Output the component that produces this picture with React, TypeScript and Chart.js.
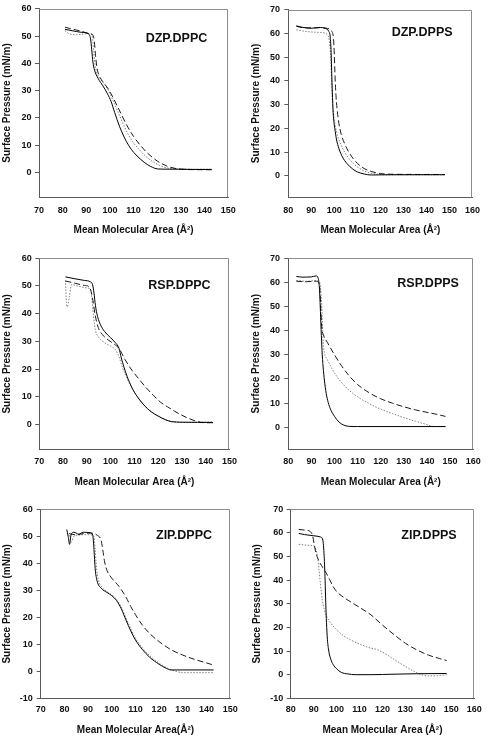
import React, { useEffect, useRef } from "react";
import { Chart, registerables } from "chart.js";

Chart.register(...registerables);

type Pt = [number, number];

// ---------- DATA ----------
const dzpDppcSolid: Pt[] = [[81,52.5],[84,52],[88,51.4],[91,50.8],[91.8,49],[92.3,45],[92.8,40.5],[93.5,37.5],[95,34.5],[97,31.8],[99,28.8],[100.5,26],[102,22],[104,17],[106,13],[108,9.8],[110,7.4],[113,4.8],[116,2.8],[118,1.9],[120,1.3],[125,1.2],[130,1.2],[135,1.1],[143,1.1]];
const dzpDppcDashed: Pt[] = [[81,53.3],[84,52.6],[88,51.8],[91,51],[92.8,50.4],[93.4,48],[93.9,43],[94.5,38.5],[95.5,35.5],[97,33.3],[99,31],[101,28],[103,24.5],[105,21],[107,17.5],[110,13.2],[113,9.8],[116,7],[120,4.2],[124,2.4],[128,1.4],[132,1.1],[143,1.0]];
const dzpDppcDotted: Pt[] = [[81,52],[83,50.8],[86,50.5],[89,50.8],[91.5,51],[92.6,49.5],[93.1,45],[93.6,40],[94.5,36.5],[96,34.2],[98,32],[100,29],[102,25],[104,21],[106,17],[108,13.5],[110,10.8],[113,7.8],[116,5.3],[120,3],[124,1.7],[128,1.3],[135,1.2],[143,1.2]];

const dzpDppsSolid: Pt[] = [[83.5,63.2],[86,62.6],[90,62.2],[94,62.5],[96,62.1],[97.5,61],[98.2,58.5],[98.6,52],[98.9,42],[99.2,33],[99.6,25],[100.2,20],[100.9,15.5],[102,11.5],[103.5,8],[105.5,5.2],[108,2.9],[110,1.7],[113,0.8],[116,0.4],[125,0.5],[148,0.5]];
const dzpDppsDashed: Pt[] = [[83.5,63],[86,62.5],[90,62.3],[94,62.5],[97,62.1],[98.8,61],[99.6,58],[100,51],[100.3,42],[100.7,34],[101.2,28],[102,22],[103,17.5],[104.5,13.5],[106,10.5],[108,7.5],[110,5.3],[113,3.1],[116,1.9],[120,1.0],[125,0.7],[148,0.6]];
const dzpDppsDotted: Pt[] = [[83.5,61.5],[88,60.8],[92,60.5],[95,60.3],[96.8,59.6],[97.8,57],[98.4,50],[98.8,40],[99.2,31],[99.9,24],[101,18.5],[102.5,14],[104.5,10],[107,6.5],[110,3.8],[114,1.7],[118,0.8],[125,0.5],[148,0.5]];

const rspDppcSolid: Pt[] = [[81,53.3],[85,52.6],[89,52],[91.5,51.5],[92.4,50.5],[93,47.5],[93.6,43],[94.5,39],[96,35.5],[98,33],[100,31.3],[102,29.5],[103.5,27.5],[104.5,24],[105.5,21],[107,17.2],[109,13.2],[111,10.3],[114,7],[117,4.6],[120,3],[123,1.7],[125.5,1],[130,0.8],[143,0.7]];
const rspDppcDashed: Pt[] = [[81,51.8],[85,51],[89,50.2],[91,49.7],[91.8,48],[92.5,45],[93.5,39.5],[94.8,35],[96.5,32.5],[99,30.5],[101.5,29],[103.5,27.5],[106,23.5],[109,19.5],[112,16.3],[115,13.2],[118,10.5],[121,8],[124,6.3],[127,4.7],[130,3.3],[133,2.1],[137,0.9],[140,0.6],[143,0.6]];
const rspDppcDotted: Pt[] = [[81,52],[81.4,44],[81.8,42.5],[82.6,46],[83.6,50.5],[86,50],[90,49.3],[91.5,48.8],[92.2,45],[92.8,39],[93.6,34],[95,31.5],[97.5,29.5],[100,28.3],[102,27],[103.5,24.5],[105,20.5],[107,16.5],[109,13],[111,10.3],[114,7],[117,4.6],[120,3],[123,1.8],[126,1],[130,0.7],[136,0.8],[143,0.9]];

const rspDppsSolid: Pt[] = [[83.5,62.5],[86,62.2],[90,62.3],[92,62.7],[93,61.5],[93.5,57],[93.9,48],[94.3,38],[94.7,30],[95.2,23.5],[95.8,18],[96.6,13],[97.5,9.5],[98.5,7],[100,4.5],[102,2.1],[104,0.9],[106,0.4],[110,0.3],[148,0.3]];
const rspDppsDashed: Pt[] = [[83.5,60.5],[88,60.3],[92,60.5],[93.3,59.5],[93.8,55],[94.2,46],[94.6,40.5],[95.2,38.3],[97,35],[100,30],[103,25.5],[106,21.7],[110,17.7],[115,14.3],[120,11.8],[125,10],[130,8.5],[135,7.2],[140,6.2],[145,5.2],[148,4.5]];
const rspDppsDotted: Pt[] = [[83.5,60.8],[88,60.5],[92,60.8],[93.6,60],[94.2,55],[94.7,45],[95.1,35],[95.6,31],[97,27.8],[100,22.5],[103,18.6],[106,15.6],[110,12.6],[115,9.8],[120,7.5],[125,5.7],[130,4],[135,2.5],[140,1.1],[143,0.3],[148,0.3]];

const zipDppcSolid: Pt[] = [[81,52.5],[81.6,50],[82.2,47],[82.8,50.5],[84,51.5],[86,50.8],[88,51.5],[91,51.3],[92,50.3],[92.5,45],[93,38],[93.8,33.5],[95.5,30.8],[98,29.2],[100,28],[102,26.2],[104,23.2],[106,19],[108,15],[110,11.6],[113,8],[116,5.2],[120,2.6],[123,1.1],[125,0.5],[130,0.5],[143,0.5]];
const zipDppcDashed: Pt[] = [[82,51],[85,50.5],[88,51],[91,51.2],[94,50.3],[95.5,48.5],[96.2,45],[97,40.5],[98,37.3],[100,34.5],[103,31.5],[106,27.5],[108,24],[110,21],[113,17],[116,14],[120,11],[125,8],[130,6],[135,4.4],[140,3.1],[143,2.3]];
const zipDppcDotted: Pt[] = [[81,51],[82,50.5],[83,48],[84,50],[86,50.5],[90,50.6],[92.5,50],[93,45],[93.5,39],[94.3,34],[96,31],[98,29.5],[100,28.3],[102,26.7],[104,23.8],[106,19.8],[108,15.8],[110,12.3],[113,8.6],[116,5.8],[120,3],[124,1],[127,0],[130,-0.5],[143,-0.5]];

const zipDppsSolid: Pt[] = [[83.5,59.8],[86,59.3],[90,58.8],[93,58.3],[94,57],[94.6,50],[95,40],[95.3,30],[95.6,22],[96,15],[96.6,10],[97.5,6.5],[98.5,4.3],[100,2.5],[102,1],[105,0.3],[108,0],[115,0],[125,0.2],[135,0.4],[148,0.5]];
const zipDppsDashed: Pt[] = [[83.5,61.5],[86,61.2],[88.5,60.6],[89.5,59],[90.2,55.5],[91,51.5],[92.5,47.8],[94,45.3],[95.5,43],[97,40.2],[98.5,37.3],[100,35.2],[102,33.5],[105,31.5],[110,28.5],[115,25.3],[120,21],[125,17],[130,13.3],[135,10.5],[140,8.3],[145,6.8],[148,6]];
const zipDppsDotted: Pt[] = [[83.5,55.2],[87,54.8],[90,54.5],[91,53],[91.7,50],[92.3,45],[93,38],[93.7,32],[94.5,28],[95.5,25],[97,22.5],[100,19],[103,16.5],[106,14.8],[110,13],[114,11.5],[118,10.5],[121,9],[125,6.5],[130,3.5],[134,1.3],[137,0],[140,-0.5],[144,-0.4],[148,0]];

const xTicksDppc = [70, 80, 90, 100, 110, 120, 130, 140, 150];
const xTicksDpps = [80, 90, 100, 110, 120, 130, 140, 150, 160];
const yTicksDppcTop = [0, 10, 20, 30, 40, 50, 60];
const yTicksDppsTop = [0, 10, 20, 30, 40, 50, 60, 70];
const yTicksDppcZip = [-10, 0, 10, 20, 30, 40, 50, 60];
const yTicksDppsZip = [-10, 0, 10, 20, 30, 40, 50, 60, 70];

const panelTitles = ["DZP.DPPC", "DZP.DPPS", "RSP.DPPC", "RSP.DPPS", "ZIP.DPPC", "ZIP.DPPS"];
const xAxisTitle = "Mean Molecular Area (Å²)";
const xAxisTitleNoSpace = "Mean Molecular Area(Å²)";
const yAxisTitle = "Surface Pressure (mN/m)";

// ---------- LAYOUT / STYLE ----------
const FONT = "'Liberation Sans', Arial, Helvetica, sans-serif";
const TEXT = "#111";
const AXIS = "#5a5a5a";
const FRAME = "#8c8c8c";

interface PanelCfg {
  title: string;
  series: [Pt[], Pt[], Pt[]];
  xMin: number; xMax: number; yMin: number; yMax: number;
  xTicks: number[]; yTicks: number[]; xTitle: string;
  posX: number; posY: number; W: number; H: number;
  left: number; right: number; top: number; bottom: number;
  yLabelRight: number; yTitleX: number; xLabelY: number; xTitleY: number;
  titleDx: number; titleDy: number;
}

const panels: PanelCfg[] = [
  { title: panelTitles[0], series: [dzpDppcSolid, dzpDppcDashed, dzpDppcDotted], xMin: 70, xMax: 150, yMin: -9, yMax: 60,
    xTicks: xTicksDppc, yTicks: yTicksDppcTop, xTitle: xAxisTitle, posX: 0, posY: 0, W: 244, H: 245,
    left: 39, right: 230, top: 6, bottom: 197, yLabelRight: 31.5, yTitleX: 7.5, xLabelY: 210.7, xTitleY: 230, titleDx: 106.7, titleDy: 29.3 },
  { title: panelTitles[1], series: [dzpDppsSolid, dzpDppsDashed, dzpDppsDotted], xMin: 80, xMax: 160, yMin: -9, yMax: 70,
    xTicks: xTicksDpps, yTicks: yTicksDppsTop, xTitle: xAxisTitle, posX: 244, posY: 0, W: 244, H: 245,
    left: 44.3, right: 236, top: 5.7, bottom: 197.3, yLabelRight: 36, yTitleX: 12.3, xLabelY: 210.7, xTitleY: 230, titleDx: 103.4, titleDy: 23 },
  { title: panelTitles[2], series: [rspDppcSolid, rspDppcDashed, rspDppcDotted], xMin: 70, xMax: 150, yMin: -9, yMax: 60,
    xTicks: xTicksDppc, yTicks: yTicksDppcTop, xTitle: xAxisTitle, posX: 0, posY: 245, W: 244, H: 245,
    left: 39.3, right: 230, top: 13.3, bottom: 204.3, yLabelRight: 31.7, yTitleX: 7.3, xLabelY: 216.7, xTitleY: 237, titleDx: 109, titleDy: 27.2 },
  { title: panelTitles[3], series: [rspDppsSolid, rspDppsDashed, rspDppsDotted], xMin: 80, xMax: 160, yMin: -9, yMax: 70,
    xTicks: xTicksDpps, yTicks: yTicksDppsTop, xTitle: xAxisTitle, posX: 244, posY: 245, W: 244, H: 245,
    left: 44.3, right: 236, top: 13.3, bottom: 204, yLabelRight: 36, yTitleX: 12.3, xLabelY: 216.7, xTitleY: 237, titleDx: 109, titleDy: 25.5 },
  { title: panelTitles[4], series: [zipDppcSolid, zipDppcDashed, zipDppcDotted], xMin: 70, xMax: 150, yMin: -10, yMax: 60,
    xTicks: xTicksDppc, yTicks: yTicksDppcZip, xTitle: xAxisTitleNoSpace, posX: 0, posY: 490, W: 244, H: 247,
    left: 40.7, right: 231, top: 19.3, bottom: 208.3, yLabelRight: 32.7, yTitleX: 7.3, xLabelY: 220, xTitleY: 240, titleDx: 115.3, titleDy: 26 },
  { title: panelTitles[5], series: [zipDppsSolid, zipDppsDashed, zipDppsDotted], xMin: 80, xMax: 160, yMin: -10, yMax: 70,
    xTicks: xTicksDpps, yTicks: yTicksDppsZip, xTitle: xAxisTitle, posX: 244, posY: 490, W: 244, H: 247,
    left: 46.7, right: 236.7, top: 19.3, bottom: 208.3, yLabelRight: 39.3, yTitleX: 13.3, xLabelY: 220, xTitleY: 240, titleDx: 110.6, titleDy: 26.2 },
];

const seriesStyles = [
  { color: "#000000", dash: [] as number[], width: 1 },
  { color: "#1a1a1a", dash: [6, 3], width: 1 },
  { color: "#808080", dash: [1.5, 1.5], width: 1 },
];

const framePlugin = {
  id: "frameBox",
  afterDraw(chart: any) {
    const { ctx, chartArea } = chart;
    const { left, right, top, bottom } = chartArea;
    ctx.save();
    ctx.strokeStyle = FRAME;
    ctx.lineWidth = 1;
    ctx.beginPath();
    const t = Math.round(top) + 0.5;
    const r = Math.round(right) - 0.5;
    ctx.moveTo(left, t);
    ctx.lineTo(r, t);
    ctx.lineTo(r, bottom);
    ctx.stroke();
    ctx.restore();
  },
};

function Panel({ p }: { p: PanelCfg }) {
  const ref = useRef<HTMLCanvasElement | null>(null);
  useEffect(() => {
    if (!ref.current) return;
    const titlePlugin = {
      id: "panelTitle",
      afterDraw(chart: any) {
        const { ctx, chartArea } = chart;
        ctx.save();
        ctx.font = `bold 12.5px ${FONT}`;
        ctx.fillStyle = TEXT;
        ctx.textAlign = "left";
        ctx.textBaseline = "middle";
        ctx.fillText(p.title, chartArea.left + p.titleDx, chartArea.top + p.titleDy);
        ctx.restore();
      },
    };
    const tickFont = { family: FONT, size: 9, weight: "bold" as const };
    const titleFont = { family: FONT, size: 10, weight: "bold" as const };
    const chart = new Chart(ref.current, {
      type: "scatter",
      data: {
        datasets: p.series.map((s, i) => ({
          data: s.map(([x, y]) => ({ x, y })),
          showLine: true,
          borderColor: seriesStyles[i].color,
          borderWidth: seriesStyles[i].width,
          borderDash: seriesStyles[i].dash,
          pointRadius: 0,
          pointHoverRadius: 0,
          fill: false,
          cubicInterpolationMode: "monotone" as const,
        })),
      },
      options: {
        responsive: false,
        animation: false,
        events: [],
        layout: { padding: { left: 0, top: p.top, right: p.W - p.right, bottom: 0 } },
        plugins: { legend: { display: false }, tooltip: { enabled: false }, title: { display: false } },
        scales: {
          x: {
            type: "linear",
            min: p.xMin,
            max: p.xMax,
            afterBuildTicks: (s: any) => { s.ticks = p.xTicks.map((v) => ({ value: v })); },
            afterFit: (s: any) => { s.height = p.H - p.bottom; },
            grid: { display: false, drawTicks: false },
            border: { display: true, color: AXIS, width: 1 },
            ticks: { font: tickFont, color: TEXT, padding: p.xLabelY - p.bottom - 5.4, maxRotation: 0, autoSkip: false },
            title: { display: true, text: p.xTitle, font: titleFont, color: TEXT, padding: { top: 0, bottom: p.H - p.xTitleY - 6 } },
          },
          y: {
            type: "linear",
            min: p.yMin,
            max: p.yMax,
            afterBuildTicks: (s: any) => { s.ticks = p.yTicks.map((v) => ({ value: v })); },
            afterFit: (s: any) => { s.width = p.left; },
            grid: { display: true, drawOnChartArea: false, drawTicks: true, tickLength: 4, color: AXIS },
            border: { display: true, color: AXIS, width: 1 },
            ticks: { font: tickFont, color: TEXT, padding: p.left - p.yLabelRight - 4, autoSkip: false },
            title: { display: true, text: yAxisTitle, font: titleFont, color: TEXT, padding: { top: p.yTitleX - 6, bottom: 0 } },
          },
        },
      },
      plugins: [framePlugin, titlePlugin],
    });
    return () => chart.destroy();
  }, [p]);
  return (
    <canvas
      ref={ref}
      width={p.W}
      height={p.H}
      style={{ position: "absolute", left: p.posX, top: p.posY, width: p.W, height: p.H, display: "block" }}
    />
  );
}

export default function App() {
  return (
    <div style={{ position: "absolute", left: 0, top: 0, width: 488, height: 737, background: "#ffffff", overflow: "hidden" }}>
      {panels.map((p, i) => (
        <Panel key={i} p={p} />
      ))}
    </div>
  );
}
